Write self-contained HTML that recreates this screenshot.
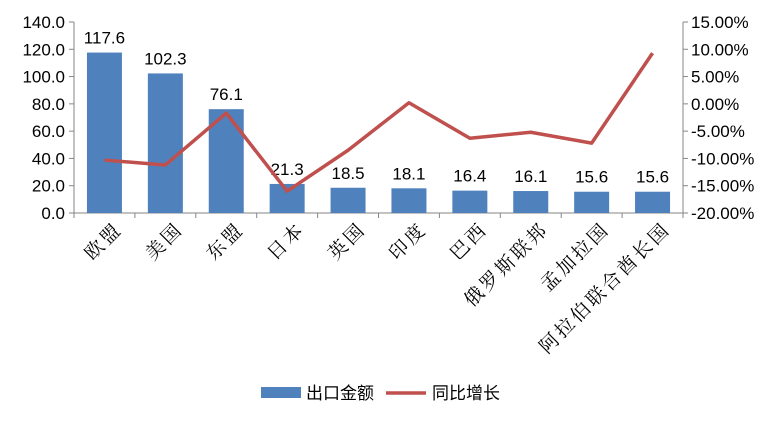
<!DOCTYPE html>
<html><head><meta charset="utf-8"><style>
body{margin:0;background:#fff;}
svg{display:block;font-family:"Liberation Sans","Noto Sans CJK SC",sans-serif;}
</style></head><body>
<svg id="chart" width="777" height="425"></svg>
<script>
const categories=["欧盟","美国","东盟","日本","英国","印度","巴西","俄罗斯联邦","孟加拉国","阿拉伯联合酋长国"];
const exportValues=[117.6,102.3,76.1,21.3,18.5,18.1,16.4,16.1,15.6,15.6];
const growthValues=[-10.3,-11.2,-1.7,-16.0,-8.5,0.2,-6.3,-5.2,-7.2,9.3];
const leftTicks=[0,20,40,60,80,100,120,140];
const rightTicks=[-20,-15,-10,-5,0,5,10,15];
const NS="http://www.w3.org/2000/svg";
const svg=document.getElementById('chart');
const X0=74,X1=683,Y0=213,Y1=22;
const band=(X1-X0)/categories.length;
const xc=i=>X0+band*(i+0.5);
const yL=v=>Y0-(v/140)*(Y0-Y1);
const yR=p=>Y0-((p+20)/35)*(Y0-Y1);
function mk(tag,attrs,parent){const e=document.createElementNS(NS,tag);for(const k in attrs)e.setAttribute(k,attrs[k]);(parent||svg).appendChild(e);return e;}
let e;
e=mk('line',{x1:X0,y1:Y1,x2:X0,y2:Y0,stroke:'#868686'});


e=mk('line',{x1:X1,y1:Y1,x2:X1,y2:Y0,stroke:'#868686'});


e=mk('line',{x1:X0,y1:Y0,x2:X1,y2:Y0,stroke:'#868686'});


leftTicks.forEach(v=>{
  mk('line',{x1:X0-5,y1:yL(v),x2:X0,y2:yL(v),stroke:'#868686'});
  e=mk('text',{x:X0-9,y:yL(v)+6,'text-anchor':'end','font-size':17,fill:'#000'});
  e.textContent=v.toFixed(1);
  
  
});
rightTicks.forEach(v=>{
  mk('line',{x1:X1,y1:yR(v),x2:X1+5,y2:yR(v),stroke:'#868686'});
  e=mk('text',{x:X1+8,y:yR(v)+6,'text-anchor':'start','font-size':17,fill:'#000'});
  e.textContent=v.toFixed(2)+'%';
  
  
});
for(let i=0;i<=categories.length;i++){mk('line',{x1:X0+band*i,y1:Y0,x2:X0+band*i,y2:Y0+5,stroke:'#868686'});}
exportValues.forEach((v,i)=>{
  e=mk('rect',{x:xc(i)-17.5,y:yL(v),width:35,height:Y0-yL(v),fill:'#4f81bd'});
  
  
  e=mk('text',{x:xc(i),y:yL(v)-9,'text-anchor':'middle','font-size':17,fill:'#000'});
  e.textContent=v.toFixed(1);
  
  
});
e=mk('polyline',{points:growthValues.map((p,i)=>xc(i)+','+yR(p)).join(' '),fill:'none',stroke:'#c0504d','stroke-width':3.5,'stroke-linejoin':'round'});


categories.forEach((c,i)=>{
  const tx=xc(i)+19,ty=230;
  e=mk('text',{x:tx,y:ty,'text-anchor':'end','font-size':19,'letter-spacing':3,fill:'#000','font-family':'"Liberation Serif","Noto Serif CJK SC",serif',transform:`rotate(-45 ${tx} ${ty})`});
  e.textContent=c;
  
  
});
const lg=mk('g',{});


e=mk('rect',{x:261,y:387,width:40,height:11,fill:'#4f81bd'},lg);


e=mk('text',{x:306,y:399,'font-size':17,fill:'#000'},lg);e.textContent='出口金额';


e=mk('line',{x1:386,y1:393,x2:426,y2:393,stroke:'#c0504d','stroke-width':3.5},lg);


e=mk('text',{x:432,y:399,'font-size':17,fill:'#000'},lg);e.textContent='同比增长';


</script>
</body></html>
